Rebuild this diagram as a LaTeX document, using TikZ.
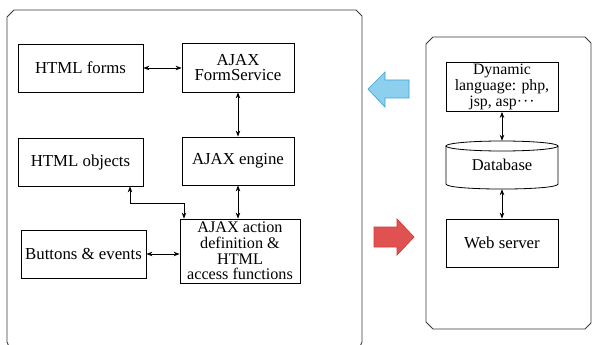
\documentclass[tikz,border=0pt]{standalone}
\usepackage{fontspec}
\setmainfont{Liberation Serif}
\newfontfamily\diagfont{Liberation Serif}
\usetikzlibrary{arrows.meta}
\definecolor{bluefill}{HTML}{8DD0EE}
\definecolor{blueline}{HTML}{3BA3DA}
\definecolor{redfill}{HTML}{E05252}
\definecolor{redline}{HTML}{D43A3A}
\definecolor{panelline}{HTML}{3A3A3A}
\tikzset{
  box/.style={draw=black, line width=0.8pt, rectangle, align=center, inner sep=1pt,
    font=\diagfont\fontsize{16.8}{15.5}\selectfont},
  plain/.style={rectangle, align=center, inner sep=1pt,
    font=\diagfont\fontsize{16.5}{15.5}\selectfont},
  tight/.style={font=\diagfont\fontsize{16.2}{15.8}\selectfont, inner sep=0.5pt},
  biarrow/.style={line width=0.8pt, {Stealth[length=6pt,width=4.5pt]}-{Stealth[length=6pt,width=4.5pt]}},
  panel/.style={draw=panelline, line width=0.9pt},
}
\begin{document}
\begin{tikzpicture}[x=1pt,y=-1pt]
\useasboundingbox (0,0) rectangle (592,345);

% client side panel
\draw[panel] (7,17) -- (14,10) -- (356,10) -- (362,16) -- (362,342) -- (359,349)
  -- (10,349) -- (7,342) -- cycle;
% server side panel
\draw[panel] (426,44) -- (433,37) -- (585,37) -- (591,43) -- (591,323) -- (585,329)
  -- (433,329) -- (426,322) -- cycle;

% client components
\node[box, minimum width=125pt, minimum height=48pt] (forms) at (80.5,68) {HTML forms};
\node[box, minimum width=112pt, minimum height=49pt] (fserv) at (238,67.5) {AJAX\\FormService};
\node[box, minimum width=125pt, minimum height=48pt] (objs) at (80.5,162) {HTML objects};
\node[box, minimum width=112pt, minimum height=48pt] (engine) at (238,161) {AJAX engine};
\node[box, tight, minimum width=120pt, minimum height=64pt]
  (action) at (240,251) {AJAX action\\definition \&\\HTML\\access functions};
\node[box, minimum width=125pt, minimum height=48pt] (buttons) at (83.5,254) {Buttons \& events};

\draw[biarrow] (forms.east) -- (fserv.west |- forms.east);
\draw[biarrow] (fserv.south) -- (engine.north -| fserv.south);
\draw[biarrow] (engine.south) -- (engine.south |- action.north);
\draw[biarrow] ([xshift=49.5pt]objs.south) -- ++(0,17) -| ([xshift=-56pt]action.north);
\draw[biarrow] (buttons.east) -- (action.west |- buttons.east);

% server components
\node[box, font=\diagfont\fontsize{15.8}{16.2}\selectfont, inner sep=0pt,
  minimum width=112pt, minimum height=49pt]
  (dyn) at (502,87) {Dynamic\\language: php,\\jsp, asp·\kern1pt·\kern1pt·};
\node[plain, minimum width=112pt, minimum height=48pt] (db) at (502,165) {Database};
\node[box, minimum width=112pt, minimum height=48pt] (web) at (502,243) {Web server};

% database drawn as a cylinder
\draw[line width=0.8pt] (502,146) ellipse [x radius=56, y radius=5];
\draw[line width=0.8pt] (446,146) -- (446,184)
  .. controls (446,190.7) and (558,190.7) .. (558,184) -- (558,146);

\draw[biarrow] (dyn.south) -- (db.north);
\draw[biarrow] (db.south) -- (web.north);

% request / response block arrows
\draw[fill=bluefill, draw=blueline, line width=0.7pt]
  (368,89) -- (385,72) -- (385,80) -- (409,80) -- (409,98) -- (385,98) -- (385,107) -- cycle;
\draw[fill=redfill, draw=redline, line width=0.7pt]
  (414,237) -- (397,219) -- (397,227) -- (374,227) -- (374,247) -- (397,247) -- (397,255) -- cycle;
\end{tikzpicture}
\end{document}
